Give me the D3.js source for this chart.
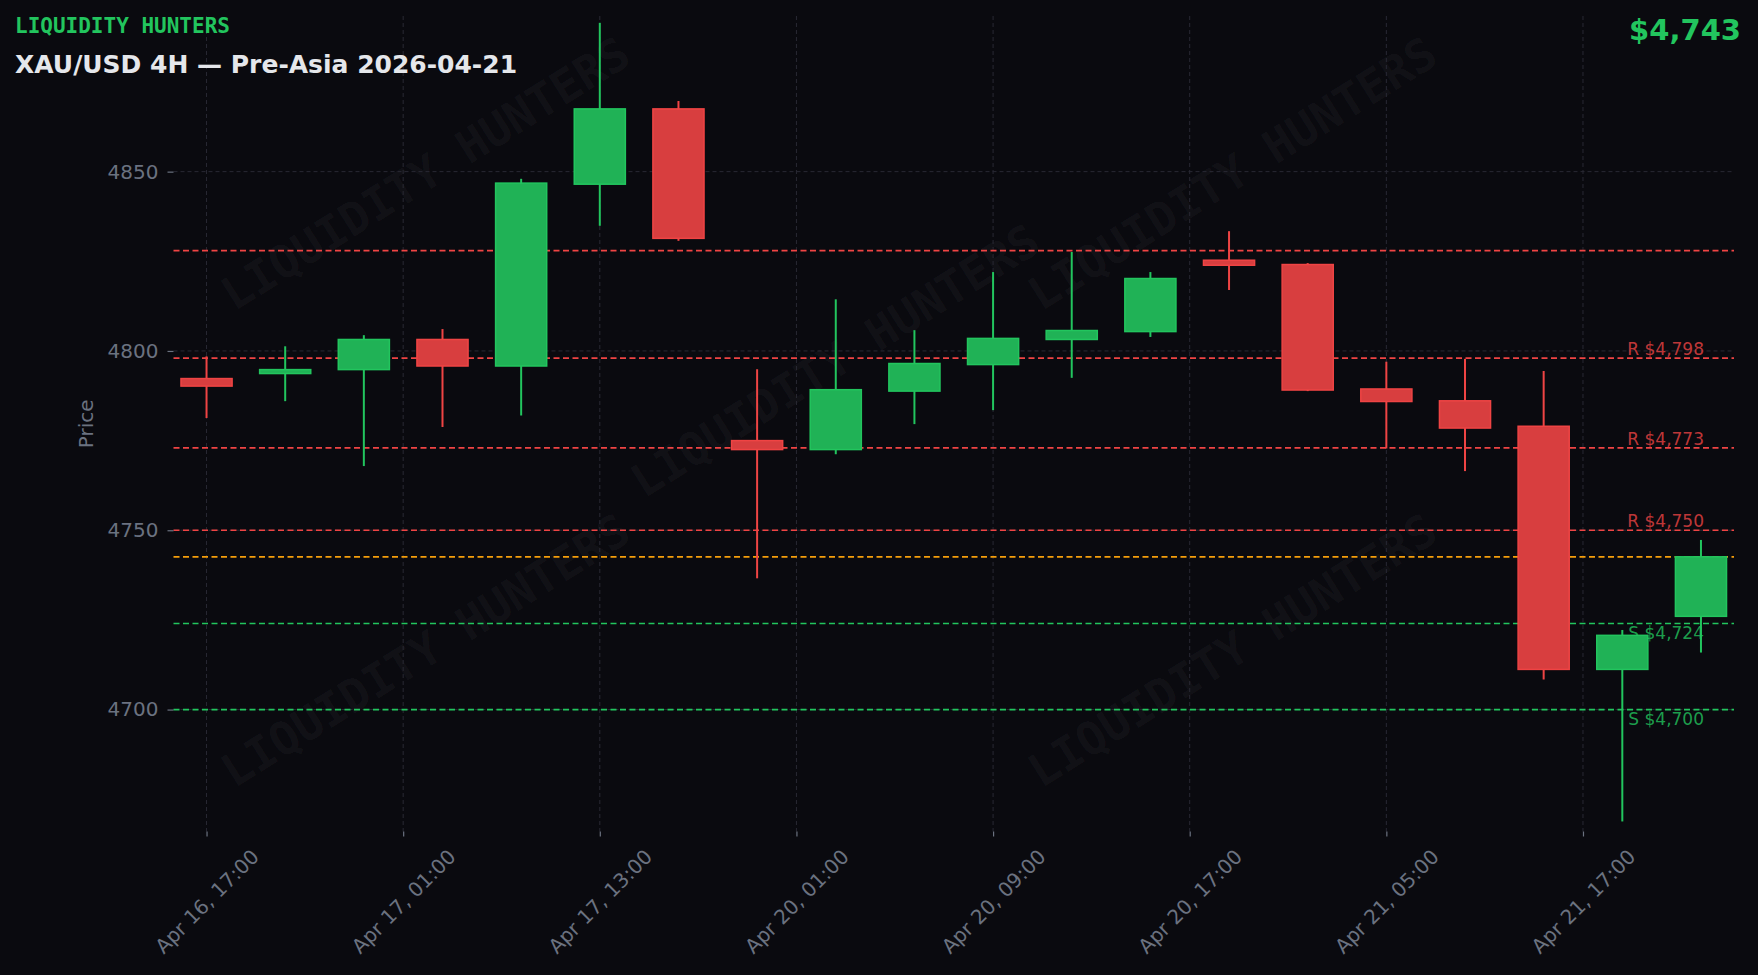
<!DOCTYPE html>
<html>
<head>
<meta charset="utf-8">
<script src="https://d3js.org/d3.v7.min.js"></script>
<style>
  html, body { margin: 0; padding: 0; background: #0a0a0f; }
  svg { display: block; }
</style>
</head>
<body>
<script>
// candle data (4H, oldest first)
var opens  = [4792.3, 4793.7, 4794.8, 4803.2, 4795.8, 4846.5, 4867.5, 4775.0, 4772.5, 4788.8, 4796.2, 4803.2, 4805.4, 4825.3, 4824.1, 4789.4, 4786.1, 4779.0, 4711.2, 4726.0];
var highs  = [4798.5, 4801.3, 4804.4, 4806.1, 4848.0, 4891.5, 4869.7, 4794.9, 4814.4, 4805.8, 4822.0, 4827.6, 4822.0, 4833.4, 4824.5, 4797.0, 4797.8, 4794.4, 4722.2, 4747.3];
var lows   = [4781.3, 4786.0, 4767.9, 4778.8, 4782.0, 4834.9, 4830.7, 4736.6, 4771.2, 4779.6, 4783.5, 4792.5, 4803.9, 4817.0, 4788.8, 4772.8, 4766.5, 4708.4, 4668.8, 4715.9];
var closes = [4790.2, 4794.8, 4803.2, 4795.8, 4846.8, 4867.5, 4831.4, 4772.5, 4789.2, 4796.5, 4803.5, 4805.7, 4820.2, 4823.9, 4789.1, 4785.9, 4778.5, 4711.2, 4720.7, 4742.6];

// x ticks (candle index) and their labels
var tickPositions = [0, 2.5, 5, 7.5, 10, 12.5, 15, 17.5];
var tickLabels = ["Apr 16, 17:00", "Apr 17, 01:00", "Apr 17, 13:00", "Apr 20, 01:00",
                  "Apr 20, 09:00", "Apr 20, 17:00", "Apr 21, 05:00", "Apr 21, 17:00"];
var priceTicks = [4700, 4750, 4800, 4850];

// levels
var resistanceLevels = [4798, 4773, 4750];
var supportLevels = [4724, 4700];
var extraLevels = [4828];
var currentPrice = 4742.6;

var width = 1758;
var height = 975;
var marginLeft = 173.5;
var marginRight = 24;
var marginTop = 16;
var marginBottom = 143.5;

var bg = "#0a0a0f";
var red = "#ef4444";
var green = "#22c55e";
var redFill = "#d83e3f";
var greenFill = "#20b256";
var orange = "#f59e0b";
var gray = "#6b7280";
var font = "'DejaVu Sans', sans-serif";
var mono = "'DejaVu Sans Mono', monospace";

var svg = d3.select("body")
  .append("svg")
  .attr("width", width)
  .attr("height", height);

svg.append("rect")
  .attr("width", width)
  .attr("height", height)
  .attr("fill", bg);

var xScale = d3.scaleLinear()
  .domain([-0.42, 19.42])
  .range([marginLeft, width - marginRight]);

var yScale = d3.scaleLinear()
  .domain([4666, 4893.4])
  .range([height - marginBottom, marginTop]);

// watermark
var marks = [[0.242, 0.178], [0.701, 0.178], [0.475, 0.37], [0.242, 0.667], [0.701, 0.667]];
svg.append("g").selectAll("text")
  .data(marks)
  .enter()
  .append("text")
  .attr("transform", d => "translate(" + (d[0] * width) + "," + (d[1] * height) + ") rotate(-32)")
  .attr("text-anchor", "middle")
  .attr("dominant-baseline", "central")
  .attr("font-family", mono)
  .attr("font-weight", "bold")
  .attr("font-size", 46)
  .attr("fill", "#ffffff")
  .attr("fill-opacity", 0.045)
  .text("LIQUIDITY HUNTERS");

// grid
var grid = svg.append("g")
  .attr("stroke", "#292934")
  .attr("stroke-width", 1)
  .attr("stroke-dasharray", "4,3");

grid.selectAll("line.h")
  .data(priceTicks)
  .enter()
  .append("line")
  .attr("class", "h")
  .attr("x1", marginLeft)
  .attr("x2", width - marginRight)
  .attr("y1", d => yScale(d))
  .attr("y2", d => yScale(d));

grid.selectAll("line.v")
  .data(tickPositions)
  .enter()
  .append("line")
  .attr("class", "v")
  .attr("y1", marginTop)
  .attr("y2", height - marginBottom)
  .attr("x1", d => xScale(d))
  .attr("x2", d => xScale(d));

// level lines
var levels = []
  .concat(extraLevels.map(v => ({ v: v, color: red, label: "" })))
  .concat(resistanceLevels.map(v => ({ v: v, color: red, label: "R $" + d3.format(",")(v), above: true })))
  .concat(supportLevels.map(v => ({ v: v, color: green, label: "S $" + d3.format(",")(v), above: false })));

svg.append("g").selectAll("line")
  .data(levels)
  .enter()
  .append("line")
  .attr("x1", marginLeft)
  .attr("x2", width - marginRight)
  .attr("y1", d => yScale(d.v))
  .attr("y2", d => yScale(d.v))
  .attr("stroke", d => d.color)
  .attr("stroke-width", 1.7)
  .attr("stroke-dasharray", "6,3.5");

svg.append("line")
  .attr("x1", marginLeft)
  .attr("x2", width - marginRight)
  .attr("y1", yScale(currentPrice))
  .attr("y2", yScale(currentPrice))
  .attr("stroke", orange)
  .attr("stroke-width", 1.7)
  .attr("stroke-dasharray", "6,3.5");

svg.append("g").selectAll("text")
  .data(levels.filter(d => d.label))
  .enter()
  .append("text")
  .attr("x", width - marginRight - 30)
  .attr("y", d => d.above ? yScale(d.v) - 3 : yScale(d.v) + 15)
  .attr("text-anchor", "end")
  .attr("font-family", font)
  .attr("font-size", 17)
  .attr("fill", d => d.color)
  .attr("fill-opacity", 0.8)
  .text(d => d.label);

// candles
var idx = d3.range(opens.length);
var bodyWidth = xScale(0.65) - xScale(0);
var candles = svg.append("g");
var up = i => closes[i] >= opens[i];

candles.selectAll("line")
  .data(idx)
  .enter()
  .append("line")
  .attr("x1", i => xScale(i))
  .attr("x2", i => xScale(i))
  .attr("y1", i => yScale(highs[i]))
  .attr("y2", i => yScale(lows[i]))
  .attr("stroke", i => up(i) ? green : red)
  .attr("stroke-width", 2);

candles.selectAll("rect")
  .data(idx)
  .enter()
  .append("rect")
  .attr("x", i => xScale(i) - bodyWidth / 2)
  .attr("width", bodyWidth)
  .attr("y", i => yScale(Math.max(opens[i], closes[i])))
  .attr("height", i => Math.max(1, Math.abs(yScale(opens[i]) - yScale(closes[i]))))
  .attr("fill", i => up(i) ? greenFill : redFill)
  .attr("stroke", i => up(i) ? green : red)
  .attr("stroke-width", 1.5);

// axes
var yAxis = d3.axisLeft(yScale)
  .tickValues(priceTicks)
  .tickFormat(d3.format("d"))
  .tickSize(6)
  .tickPadding(9);

var gy = svg.append("g")
  .attr("transform", "translate(" + marginLeft + ",0)")
  .call(yAxis);
gy.select(".domain").remove();
gy.selectAll("line").attr("stroke", gray).attr("stroke-width", 1.2);
gy.selectAll("text")
  .attr("fill", gray)
  .attr("font-family", font)
  .attr("font-size", 20);

var xAxis = d3.axisBottom(xScale)
  .tickValues(tickPositions)
  .tickFormat((d, i) => tickLabels[i])
  .tickSize(5);

var gx = svg.append("g")
  .attr("transform", "translate(0," + (height - marginBottom) + ")")
  .call(xAxis);
gx.select(".domain").remove();
gx.selectAll("line").attr("stroke", gray).attr("stroke-width", 1.2);
gx.selectAll("text")
  .attr("fill", gray)
  .attr("font-family", font)
  .attr("font-size", 20)
  .attr("text-anchor", "middle")
  .attr("y", null)
  .attr("dy", "0.35em")
  .attr("transform", "translate(0,70) rotate(-45)");

svg.append("text")
  .attr("transform", "translate(86," + ((marginTop + height - marginBottom) / 2) + ") rotate(-90)")
  .attr("text-anchor", "middle")
  .attr("dominant-baseline", "central")
  .attr("font-family", font)
  .attr("font-size", 20)
  .attr("fill", gray)
  .text("Price");

// header
svg.append("text")
  .attr("x", 15)
  .attr("y", 33)
  .attr("font-family", mono)
  .attr("font-weight", "bold")
  .attr("font-size", 21)
  .attr("fill", green)
  .text("LIQUIDITY HUNTERS");

svg.append("text")
  .attr("x", 15)
  .attr("y", 73)
  .attr("font-family", font)
  .attr("font-weight", "bold")
  .attr("font-size", 25)
  .attr("fill", "#e5e7eb")
  .text("XAU/USD 4H \u2014 Pre-Asia 2026-04-21");

svg.append("text")
  .attr("x", 1741)
  .attr("y", 39.5)
  .attr("text-anchor", "end")
  .attr("font-family", font)
  .attr("font-weight", "bold")
  .attr("font-size", 29)
  .attr("fill", green)
  .text("$" + d3.format(",")(Math.round(currentPrice)));
</script>
</body>
</html>
